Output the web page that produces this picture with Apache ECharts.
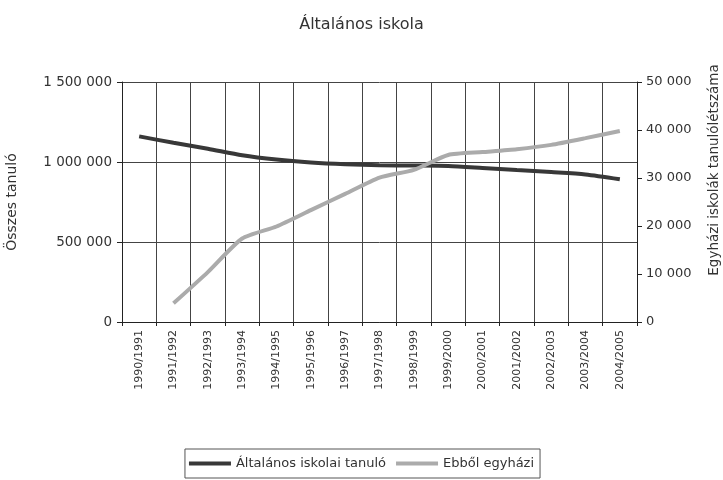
<!DOCTYPE html>
<html>
<head>
<meta charset="utf-8">
<script src="https://cdn.jsdelivr.net/npm/echarts@6/dist/echarts.min.js"></script>
<style>
    html, body { margin: 0; padding: 0; background: #fff; }
    #chart { width: 723px; height: 480px; }
</style>
</head>
<body>
<div id="chart"></div>
<script>
const years = ['1990/1991', '1991/1992', '1992/1993', '1993/1994', '1994/1995', '1995/1996', '1996/1997',
    '1997/1998', '1998/1999', '1999/2000', '2000/2001', '2001/2002', '2002/2003', '2003/2004', '2004/2005']
const osszes = [1160000, 1120000, 1083000, 1042000, 1015000, 997000, 986000, 980000, 978000, 975000,
    963000, 950000, 937000, 922000, 892000]
const egyhazi = [null, 3900, 10400, 17400, 19900, 23300, 26700, 30100, 31700, 34800, 35400, 36000,
    36900, 38300, 39800]
const leftTicks = [0, 500000, 1000000, 1500000]
const rightTicks = [0, 10000, 20000, 30000, 40000, 50000]

const fmt = v => String(v).replace(/\B(?=(\d{3})+(?!\d))/g, ' ')
const font = '"DejaVu Sans", Verdana, sans-serif'
const ink = '#333'

const chart = echarts.init(document.getElementById('chart'))
chart.setOption({
    animation: false,
    textStyle: { fontFamily: font, color: ink },
    title: {
        text: 'Általános iskola',
        left: 'center',
        top: 12,
        textStyle: { fontFamily: font, fontSize: 16, fontWeight: 'normal', color: ink }
    },
    legend: {
        bottom: 2,
        left: 'center',
        itemWidth: 42,
        itemHeight: 4,
        itemGap: 10,
        padding: [8, 6, 8, 4],
        borderColor: '#555',
        borderWidth: 1,
        borderRadius: 0,
        icon: 'rect',
        textStyle: { fontFamily: font, fontSize: 13, color: ink },
        data: ['Általános iskolai tanuló', 'Ebből egyházi']
    },
    grid: {
        left: 122,
        right: 86,
        top: 82,
        bottom: 158,
        outerBoundsMode: 'none'
    },
    xAxis: {
        type: 'category',
        data: years,
        boundaryGap: true,
        axisLine: { lineStyle: { color: '#222' } },
        axisTick: { show: true, length: 4, lineStyle: { color: '#222' } },
        axisLabel: { rotate: 90, fontSize: 11, color: ink, margin: 8 },
        splitLine: { show: true, lineStyle: { color: '#444', width: 1 } }
    },
    yAxis: [{
        type: 'value',
        min: leftTicks[0],
        max: leftTicks[leftTicks.length - 1],
        interval: 500000,
        name: 'Összes tanuló',
        nameLocation: 'middle',
        nameGap: 103,
        nameTextStyle: { fontSize: 14, color: ink },
        axisLine: { show: true, lineStyle: { color: '#222' } },
        axisTick: { show: true, length: 5, lineStyle: { color: '#222' } },
        axisLabel: { fontSize: 13.5, color: ink, margin: 10, formatter: fmt },
        splitLine: { show: true, lineStyle: { color: '#444', width: 1 } }
    }, {
        type: 'value',
        position: 'right',
        min: rightTicks[0],
        max: rightTicks[rightTicks.length - 1],
        interval: 10000,
        name: 'Egyházi iskolák tanulólétszáma',
        nameLocation: 'middle',
        nameGap: 70,
        nameRotate: 90,
        nameTextStyle: { fontSize: 13.5, color: ink, padding: [0, 0, 0, 64] },
        axisLine: { show: true, lineStyle: { color: '#222' } },
        axisTick: { show: true, length: 5, lineStyle: { color: '#222' } },
        axisLabel: { fontSize: 13, color: ink, margin: 9, formatter: fmt },
        splitLine: { show: false }
    }],
    series: [{
        name: 'Általános iskolai tanuló',
        type: 'line',
        yAxisIndex: 0,
        data: osszes,
        smooth: 0.25,
        symbol: 'none',
        color: '#383838',
        lineStyle: { color: '#383838', width: 4 }
    }, {
        name: 'Ebből egyházi',
        type: 'line',
        yAxisIndex: 1,
        data: egyhazi,
        smooth: 0.2,
        symbol: 'none',
        color: '#ababab',
        lineStyle: { color: '#ababab', width: 4 }
    }]
})
</script>
</body>
</html>
